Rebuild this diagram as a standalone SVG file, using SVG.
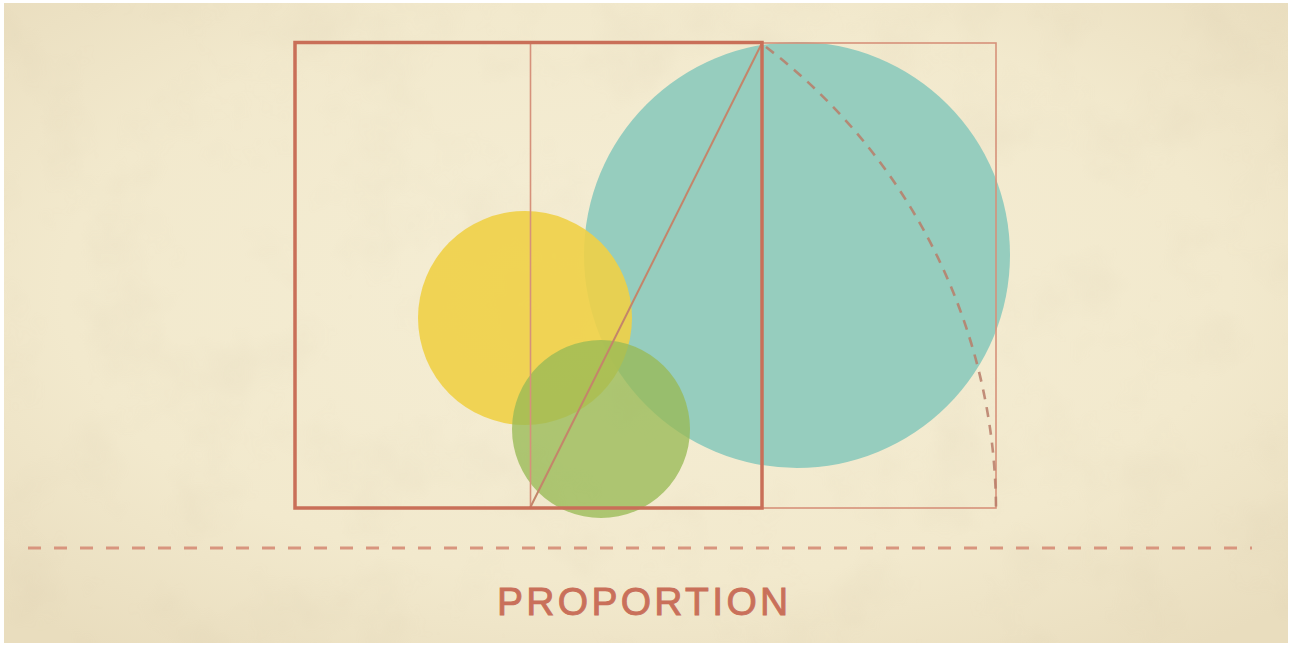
<svg xmlns="http://www.w3.org/2000/svg" width="1292" height="646" viewBox="0 0 1292 646">
  <defs>
    <radialGradient id="paper" cx="50%" cy="45%" r="70%">
      <stop offset="0" stop-color="#f5eed5"/>
      <stop offset="0.65" stop-color="#f2e9cd"/>
      <stop offset="1" stop-color="#e9ddbe"/>
    </radialGradient>
    <filter id="noise" x="0" y="0" width="100%" height="100%">
      <feTurbulence type="fractalNoise" baseFrequency="0.012" numOctaves="4" seed="7"/>
      <feColorMatrix type="matrix" values="0 0 0 0 0.55  0 0 0 0 0.45  0 0 0 0 0.3  0 0 0 -1.4 0.75"/>
    </filter>
    <style>
      .thick { fill: none; stroke: #c96f58; stroke-width: 3.5; }
      .thin { fill: none; stroke: #d6917a; stroke-width: 1.6; }
      .diag { fill: none; stroke: #c4856a; stroke-width: 2; }
      .arc { fill: none; stroke: #b87c68; stroke-width: 2.6; stroke-dasharray: 10 8; opacity: 0.85; }
      .rule { fill: none; stroke: #d8957e; stroke-width: 3; stroke-dasharray: 13 13; }
      .title { font-family: "Liberation Sans", Arial, sans-serif; font-size: 39px; fill: #c9705a; stroke: #c9705a; stroke-width: 0.9; letter-spacing: 3.3px; }
    </style>
  </defs>

  <rect x="0" y="0" width="1292" height="646" fill="#ffffff"/>
  <g id="background">
    <rect x="4" y="3" width="1284" height="640" fill="url(#paper)"/>
    <rect x="4" y="3" width="1284" height="640" filter="url(#noise)" opacity="0.14"/>
  </g>

  <g id="circle-teal">
    <circle cx="797" cy="255" r="213" fill="#96cdbe"/>
  </g>
  <g id="circle-yellow">
    <circle cx="525" cy="318" r="107" fill="#efd046" opacity="0.9"/>
  </g>
  <g id="circle-green">
    <circle cx="601" cy="429" r="89" fill="#98ba56" opacity="0.78"/>
  </g>

  <g id="connectors">
    <rect class="thin" x="762" y="43" width="234" height="465"/>
    <line class="thin" x1="530.5" y1="43" x2="530.5" y2="508"/>
    <line class="diag" x1="530" y1="508" x2="762" y2="43"/>
    <path class="arc" d="M 766 47 A 584.5 584.5 0 0 1 996 508"/>
    <rect class="thick" x="295" y="42.5" width="467" height="465.5"/>
  </g>

  <g id="divider">
    <line class="rule" x1="28" y1="548" x2="1252" y2="548"/>
  </g>

  <g id="label">
    <text class="title" x="497" y="615">PROPORTION</text>
  </g>
</svg>
